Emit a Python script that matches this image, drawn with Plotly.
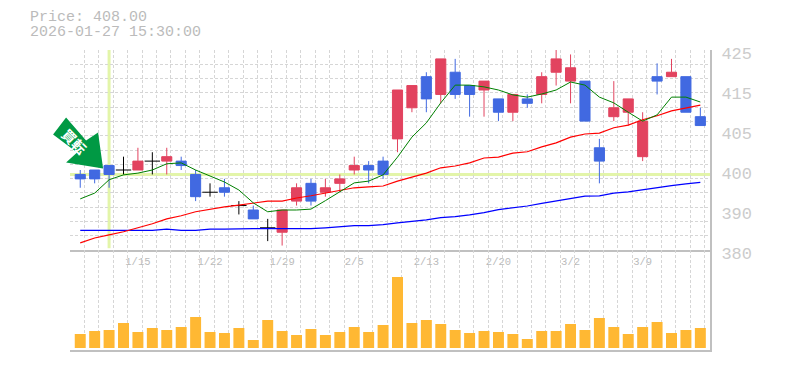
import plotly.graph_objects as go

dates = ["1/8","1/9","1/13","1/14","1/15","1/16","1/19","1/20","1/21","1/22","1/23","1/26","1/27","1/28","1/29","1/30",
         "2/2","2/3","2/4","2/5","2/6","2/9","2/10","2/12","2/13","2/16","2/17","2/18","2/19","2/20","2/24","2/25",
         "2/26","2/27","3/2","3/3","3/4","3/5","3/6","3/9","3/10","3/11","3/12","3/13"]
opens = [397,398,399,398,398,400,400,400,397,393,394,390,389,385,384,391,395,393,395,398,399,400,405,412,419,415,420,417,416,414,411,414,415,420,418,418,403,410,411,401,419,419,419,410]
closes = [396,396,397,398,400,400,401,399,392,393,393,390,387,385,389,394,391,394,396,399,398,397,416,417,414,423,415,415,418,411,415,413,419,423,421,409,400,412,414,409,418,420,411,408]
highs = [398,398,399,401,403,402,403,401,398,395,396,391,390,387,389,395,396,396,397,401,400,401,416,417,420,423,423,417,418,414,415,415,420,425,424,418,405,418,414,411,422,423,419,412]
lows = [394,395,394,397,398,397,397,398,391,392,392,388,387,382,381,390,390,392,393,397,395,396,402,411,411,413,414,410,410,409,409,412,413,417,413,409,395,409,408,400,415,419,411,408]
ma_short = [391.5,392.8,395.8,396.9,397.3,398.0,399.4,399.6,398.0,396.7,395.3,393.5,390.6,388.6,389.0,389.0,389.2,391.1,393.1,395.1,395.5,396.9,400.9,405.4,408.6,413.1,417.1,417.1,416.7,416.0,414.9,414.4,415.1,416.0,417.8,417.1,414.4,413.1,411.0,409.0,410.4,414.4,414.4,413.3]
ma_mid = [381.6,382.7,383.4,384.1,385.0,385.9,387.0,387.7,388.6,389.2,389.7,390.1,390.6,391.0,391.0,391.7,392.2,392.8,393.3,394.0,394.2,394.4,395.5,396.4,397.3,398.5,398.9,399.6,400.7,400.9,401.8,402.1,403.2,404.1,405.4,406.1,406.3,407.5,408.1,409.3,410.2,411.3,412.0,412.6]
ma_long = [384.4,384.4,384.4,384.4,384.4,384.4,384.7,384.4,384.4,384.7,384.7,384.8,384.8,384.8,384.8,384.8,384.8,385.0,385.2,385.5,385.5,385.7,386.1,386.4,386.8,387.3,387.5,387.9,388.4,389.1,389.5,389.9,390.5,391.0,391.6,392.1,392.2,392.8,393.1,393.6,394.0,394.5,394.9,395.2]
volumes = [14,17,18,25,16,20,18,21,31,16,15,20,8,28,17,13,19,13,16,21,16,23,71,25,28,24,18,15,17,16,14,9,17,17,24,18,30,21,14,21,26,15,18,20]
price_ticks = [380,389,398,407,416,425]
price_labels = ["380","390","400","405","415","425"]
date_ticks = ["1/15","1/22","1/29","2/5","2/13","2/20","3/2","3/9"]
signal_date = "1/13"
signal_price = 397
last_price = "408.00"
stamp = "2026-01-27 15:30:00"
signal_text = "買転"

idx = list(range(len(dates)))
RED, BLUE, MONO = "#e2435f", "#4169e1", "Liberation Mono"
W, H = 785, 370
XL, XR, YT, YM, YB = 70, 710, 50, 250, 350
xrange = [-0.71, 43.67]
yrange = [380, 425]
solid = [i for i in idx if opens[i] != closes[i]]
doji = [i for i in idx if opens[i] == closes[i]]
def pick(a, s): return [a[i] for i in s]

fig = go.Figure()
fig.add_trace(go.Candlestick(x=solid, open=pick(opens, solid), high=pick(highs, solid), low=pick(lows, solid), close=pick(closes, solid),
    increasing=dict(line=dict(color=RED, width=1), fillcolor=RED),
    decreasing=dict(line=dict(color=BLUE, width=1), fillcolor=BLUE), whiskerwidth=0))
fig.add_trace(go.Scatter(x=doji, y=pick(closes, doji), mode="markers",
    marker=dict(symbol="line-ew", size=11, color="black", line=dict(color="black", width=1)),
    error_y=dict(type="data", symmetric=False, array=[highs[i]-closes[i] for i in doji], arrayminus=[closes[i]-lows[i] for i in doji],
                 color="black", thickness=1, width=0)))
for vals, col, w in ((ma_long, "#0000ff", 1.2), (ma_mid, "#ff0000", 1.2), (ma_short, "#008000", 1)):
    fig.add_trace(go.Scatter(x=idx, y=vals, mode="lines", line=dict(color=col, width=w)))
fig.add_trace(go.Bar(x=idx, y=volumes, width=0.76, marker=dict(color="#ffb833", line=dict(width=0)), xaxis="x2", yaxis="y2"))

sx = dates.index(signal_date)
GUIDE = "#e3f5a9"
fig.add_shape(type="line", x0=sx, x1=sx, y0=380.4, y1=425, xref="x", yref="y", layer="below", line=dict(color=GUIDE, width=3))
fig.add_shape(type="line", x0=xrange[0], x1=xrange[1], y0=signal_price, y1=signal_price, xref="x", yref="y", layer="below", line=dict(color=GUIDE, width=3))
# arrow: anchored in paper space (a data-anchored shape would be clipped at the plot's left edge)
ax = (XL + (sx - xrange[0]) / (xrange[1] - xrange[0]) * (XR - XL)) / W
ay = (H - YM + (highs[sx] - yrange[0]) / (yrange[1] - yrange[0]) * (YM - YT)) / H
arrow = [(-56,31),(-43,48),(-23,25),(-11,33),(-6,-3),(-43,3),(-32,13)]
fig.add_shape(type="path", xref="paper", yref="paper", xsizemode="pixel", ysizemode="pixel", xanchor=ax, yanchor=ay,
    path="M" + " L".join(f"{a},{b}" for a, b in arrow) + " Z", fillcolor="#009944", line=dict(width=0), layer="above")
fig.add_annotation(x=ax, y=ay, xref="paper", yref="paper", xanchor="center", yanchor="middle", xshift=-34.5, yshift=25,
    text=f"<b>{signal_text}</b>", showarrow=False, textangle=45, font=dict(color="white", size=14, family="Noto Sans CJK JP"))

for txt, y in ((f"Price: {last_price}", 18), (stamp, 33)):
    fig.add_annotation(x=28/W, y=1-y/H, xref="paper", yref="paper", xanchor="left", yanchor="middle", text=txt, showarrow=False,
                       font=dict(family=MONO, size=15, color="#bbbbbb"))

GRID = "#d6d6d6"
xbase = dict(range=xrange, domain=[XL/W, XR/W], showgrid=False, zeroline=False, showline=True, linecolor="#c0c0c0", linewidth=2,
             automargin=False, rangeslider=dict(visible=False),
             minor=dict(showgrid=True, gridcolor=GRID, griddash="3px,2px", gridwidth=1, tick0=xrange[0], dtick=1))
fig.update_layout(
    width=W, height=H, autosize=False, margin=dict(l=0, r=0, t=0, b=0, pad=0), showlegend=False,
    paper_bgcolor="white", plot_bgcolor="white", hovermode=False, boxgap=0.3, boxgroupgap=0,
    xaxis=dict(xbase, anchor="y", tickmode="array", tickvals=[dates.index(d) for d in date_ticks], ticktext=date_ticks, ticks="",
               ticklabelstandoff=0, tickfont=dict(family=MONO, size=10.5, color="#bbbbbb")),
    xaxis2=dict(xbase, anchor="y2", showticklabels=False, ticks=""),
    yaxis=dict(domain=[(H-YM)/H, (H-YT)/H], range=yrange, anchor="x", side="right", showgrid=False, zeroline=False, showline=True,
               automargin=False, linecolor="#c0c0c0", linewidth=2, ticks="", tickmode="array", tickvals=price_ticks, ticktext=price_labels,
               ticklabelstandoff=6, ticklabelshift=3, tickfont=dict(family=MONO, size=17, color="#cccccc"),
               minor=dict(showgrid=True, gridcolor=GRID, griddash="3px,2px", gridwidth=1, tick0=380, dtick=45/14)),
    yaxis2=dict(domain=[(H-YB)/H, (H-YM)/H], range=[-2, 98], anchor="x2", side="right", showgrid=False, zeroline=False, showline=True,
                automargin=False, linecolor="#c0c0c0", linewidth=2, showticklabels=False, ticks=""),
)
fig.write_html("out.html", config={"displayModeBar": False}, post_script="document.body.style.margin='0';document.documentElement.style.overflow='hidden';")
